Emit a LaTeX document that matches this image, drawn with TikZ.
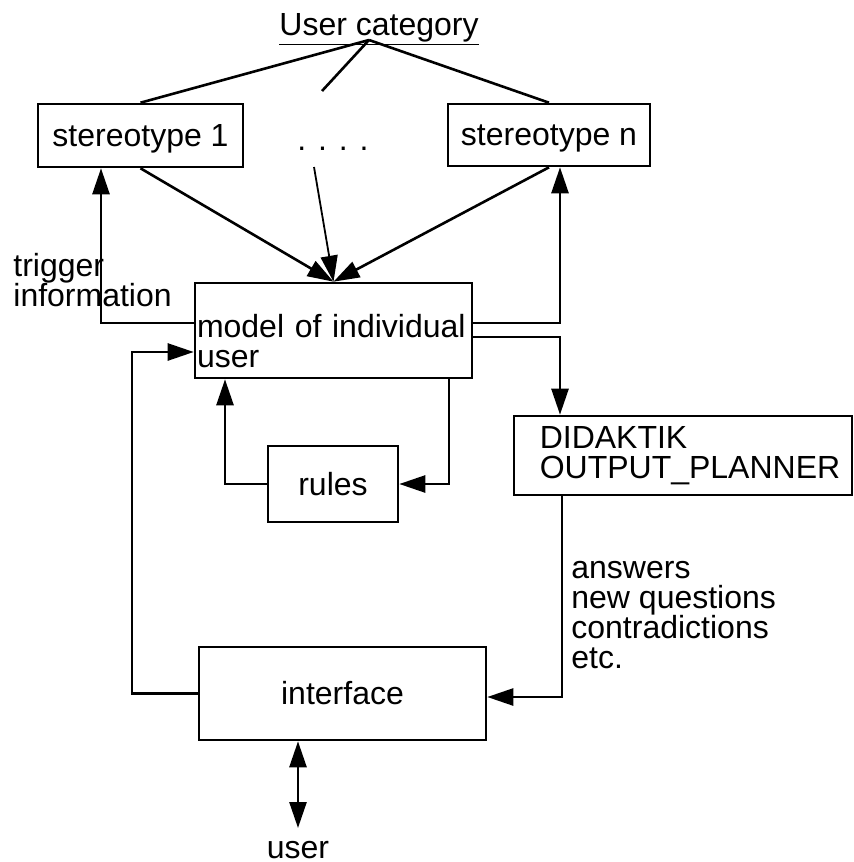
\documentclass[tikz,border=0pt]{standalone}
\usepackage{fontspec}
\setmainfont{Liberation Sans}
\usetikzlibrary{arrows.meta}
\begin{document}
\begin{tikzpicture}[x=0.5pt,y=-0.5pt,
  every node/.style={font=\fontsize{16}{15}\selectfont},
  box/.style={draw, line width=1.3pt, inner sep=0pt},
  link/.style={line width=1.3pt},
  arr/.style={link, -{Triangle[length=13pt,width=8.5pt]}},
  darr/.style={link, {Triangle[length=13pt,width=8.5pt]}-{Triangle[length=13pt,width=8.5pt]}},
  lbl/.style={inner sep=0pt, align=left}]
\useasboundingbox (0,0) rectangle (854,862);

% boxes
\node[box, minimum width=102.5pt, minimum height=31.5pt, text depth=0pt] (st1) at (140.5,135.5) {stereotype 1};
\node[box, minimum width=101pt, minimum height=31pt, text depth=0pt] (stn) at (549,135) {stereotype n};
\node[box, minimum width=138.5pt, minimum height=47.5pt, align=left,
      text width=136.5pt, text depth=4.5pt] (model) at (333.5,330.5) {model of individual\\user};
\node[box, minimum width=65pt, minimum height=38pt] (rules) at (333,484) {rules};
\node[box, minimum width=169pt, minimum height=39.5pt, align=left] (did) at (683,455.5)
      {\hspace*{7pt}DIDAKTIK\\\hspace*{7pt}OUTPUT\_PLANNER};
\node[box, minimum width=143.5pt, minimum height=46.5pt] (iface) at (342.5,693.5) {interface};

% free labels
\node[lbl, anchor=base] (cat) at (379,35) {\underline{User category}};
\node[lbl, anchor=base] (dots) at (333,150) {. . . .};
\node[lbl, anchor=west] (trig) at (13,280.5) {trigger\\information};
\node[lbl, anchor=west] (fb) at (571,615) {answers\\new questions\\contradictions\\etc.};
\node[lbl, anchor=base] (usr) at (298,858) {user};

% routing points
\coordinate (apex) at (369,40);
\coordinate (mid) at (322,91);
\coordinate (dstart) at (314,167);
\coordinate (tl) at (101,323);
\coordinate (tr) at (560,323);
\coordinate (td) at (560,337);
\coordinate (mr) at (449,484);
\coordinate (rl) at (225,484);
\coordinate (iu) at (132,352);
\coordinate (dk) at (562,697);
\coordinate (ub) at (298,828);

% category to stereotypes
\draw[link] (apex) -- (st1.north);
\draw[link] (apex) -- (mid);
\draw[link] (apex) -- (stn.north);

% stereotypes into the user model
\draw[arr] (st1.south) -- (model.north);
\draw[arr, line width=0.9pt] (dstart) -- (model.north);
\draw[arr] (stn.south) -- (model.north);

% trigger feedback
\draw[arr] (tl -| model.west) -- (tl) -- (tl |- st1.south);
\draw[arr] (tr -| model.east) -- (tr) -- (tr |- stn.south);

% model to planner and rules loop
\draw[arr] (td -| model.east) -- (td) -- (td |- did.north);
\draw[arr] (mr |- model.south) -- (mr) -- (rules.east);
\draw[arr] (rules.west) -- (rl) -- (rl |- model.south);

% interface loop
\draw[arr] (iface.west) -| (iu) -- (iu -| model.west);
\draw[arr] (dk |- did.south) -- (dk) -- (dk -| iface.east);
\draw[darr] (ub |- iface.south) -- (ub);
\end{tikzpicture}
\end{document}
